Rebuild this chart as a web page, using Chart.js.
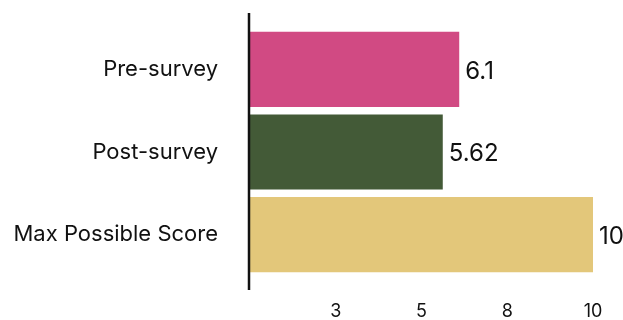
<!DOCTYPE html>
<html lang="en">
<head>
    <meta charset="UTF-8">
    <title>Survey scores</title>
    <script src="https://cdn.jsdelivr.net/npm/chart.js"></script>
    <style>
        body { margin: 0; background: #fff; }
        #wrap { width: 623px; height: 320px; }
    </style>
</head>
<body>
    <div id="wrap"><canvas id="scores"></canvas></div>
    <script>
// Scores per group
const categories = ["Pre-survey", "Post-survey", "Max Possible Score"];
const scores = [6.1, 5.62, 10];
const barColors = ["#D14A83", "#435A37", "#E3C77A"];
const xTicks = [2.5, 5, 7.5, 10];

const FONT = "Inter, 'Noto Sans', sans-serif";

// Value written just right of each bar
const valueLabels = {
    id: "valueLabels",
    afterDatasetsDraw(chart) {
        const ctx = chart.ctx;
        const meta = chart.getDatasetMeta(0);
        ctx.save();
        ctx.font = "24px " + FONT;
        ctx.fillStyle = "#111";
        ctx.textAlign = "left";
        ctx.textBaseline = "middle";
        meta.data.forEach((bar, i) => {
            ctx.fillText(String(scores[i]), bar.x + 6, bar.y + 2);
        });
        ctx.restore();
    }
};

// Vertical axis line, a bit taller than the plot area
const axisLine = {
    id: "axisLine",
    afterDraw(chart) {
        const { ctx, chartArea } = chart;
        ctx.save();
        ctx.strokeStyle = "#111";
        ctx.lineWidth = 2.5;
        ctx.beginPath();
        ctx.moveTo(chartArea.left - 1, chartArea.top - 15);
        ctx.lineTo(chartArea.left - 1, chartArea.bottom + 14);
        ctx.stroke();
        ctx.restore();
    }
};

new Chart(document.getElementById("scores"), {
    type: "bar",
    data: {
        labels: categories,
        datasets: [{
            data: scores,
            backgroundColor: barColors,
            barPercentage: 0.91,
            categoryPercentage: 1
        }]
    },
    options: {
        indexAxis: "y",
        responsive: true,
        maintainAspectRatio: false,
        animation: false,
        layout: { padding: { top: 28, right: 30, bottom: 0, left: 13 } },
        plugins: { legend: { display: false }, tooltip: { enabled: false } },
        scales: {
            x: {
                min: 0,
                max: 10,
                afterBuildTicks: axis => { axis.ticks = xTicks.map(v => ({ value: v })); },
                afterFit: axis => {
                    axis.height = 44;
                    axis.paddingLeft = 0;
                    axis.paddingRight = 0;
                },
                grid: { display: false, drawTicks: false },
                border: { display: false },
                ticks: {
                    color: "#111",
                    font: { family: FONT, size: 18 },
                    padding: 25,
                    maxRotation: 0,
                    callback: value => Math.round(value)
                }
            },
            y: {
                afterFit: axis => {
                    axis.width = 237;
                    axis.paddingTop = 0;
                    axis.paddingBottom = 0;
                },
                grid: { display: false, drawTicks: false },
                border: { display: false },
                ticks: {
                    color: "#111",
                    font: { family: FONT, size: 22 },
                    padding: 32
                }
            }
        }
    },
    plugins: [valueLabels, axisLine]
});
    </script>
</body>
</html>
